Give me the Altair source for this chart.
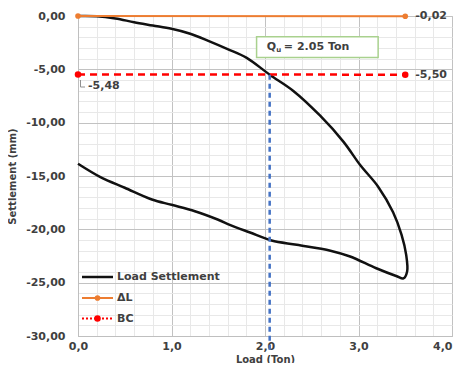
import altair as alt
import pandas as pd

# ---------------- data ----------------
load_ton = [0.0, 0.2, 0.4, 0.6, 0.8, 1.0, 1.2, 1.4, 1.6, 1.8, 2.05, 2.3, 2.59, 2.84, 3.02,
            3.21, 3.37, 3.46, 3.51, 3.52, 3.48, 3.41, 3.19, 2.91, 2.7, 2.34, 2.07,
            1.84, 1.63, 1.5, 1.25, 1.0, 0.79, 0.5, 0.24, 0.0]
settlement_mm = [0.0, -0.02, -0.23, -0.58, -0.89, -1.2, -1.66, -2.35, -3.1, -3.9, -5.5, -7.0,
                 -9.35, -11.8, -14.0, -16.0, -18.4, -20.5, -22.4, -23.95, -24.6, -24.4,
                 -23.65, -22.55, -22.0, -21.45, -21.05, -20.3, -19.6, -19.1, -18.3, -17.7,
                 -17.2, -16.1, -15.1, -13.85]

dl_x = [0.0, 3.5]
dl_y = [0.0, -0.02]
bc_x = [0.0, 3.5]
bc_y = [-5.48, -5.50]
qu_load = 2.05
qu_settle = -5.50

x_ticks = [round(i * 0.2, 1) for i in range(21)]
y_ticks = list(range(-30, 1))

legend_names = ["Load Settlement", "ΔL", "BC"]

# ---------------- style ----------------
W, H = 374, 320
FONT = "DejaVu Sans"
TXT = "#404040"
ORANGE = "#ED7D31"
RED = "#FF0000"
BLUE = "#4472C4"
MAJOR = "#c2c2c2"
MINOR = "#e8e8e8"

xs = alt.Scale(domain=[0, 4], nice=False, zero=False)
ys = alt.Scale(domain=[-30, 0], nice=False, zero=False)

is_major_x = "abs(datum.value - round(datum.value)) < 0.001"
x_axis = alt.Axis(
    values=x_ticks, title="Load (Ton)",
    labelExpr=is_major_x + " ? replace(format(datum.value, '.1f'), '.', ',') : ''",
    grid=True,
    gridColor={"condition": {"test": is_major_x, "value": MAJOR}, "value": MINOR},
    labelAlign={"condition": {"test": "datum.value > 3.9", "value": "right"}, "value": "center"},
    ticks=False, domainColor="#bfbfbf", labelPadding=4, labelFlush=False, labelOverlap=False,
    titleX=W / 2, titleY=23, titleBaseline="middle",
)
y_axis = alt.Axis(
    values=y_ticks, title="Settlement (mm)",
    labelExpr="datum.value % 5 === 0 ? replace(replace(format(datum.value, '.2f'), '.', ','), '−', '-') : ''",
    grid=True,
    gridColor={"condition": {"test": "datum.value % 5 === 0", "value": MAJOR}, "value": MINOR},
    ticks=False, domainColor="#bfbfbf", labelPadding=13, labelFlush=False, labelOverlap=False,
    titleX=-66, titleY=H / 2, titleAngle=-90, titleBaseline="middle", titleAlign="center",
)

X = alt.X("x:Q", scale=xs, axis=x_axis)
Y = alt.Y("y:Q", scale=ys, axis=y_axis)

curve_df = pd.DataFrame({"x": load_ton, "y": settlement_mm, "i": range(len(load_ton))})
dl_df = pd.DataFrame({"x": dl_x, "y": dl_y})
bc_df = pd.DataFrame({"x": bc_x, "y": bc_y})
qu_df = pd.DataFrame({"x": [qu_load], "y": [qu_settle]})
one = pd.DataFrame({"a": [0]})

curve = alt.Chart(curve_df).mark_line(
    color="#111111", strokeWidth=2.5, interpolate="catmull-rom"
).encode(x=X, y=Y, order="i:Q")

dl_line = alt.Chart(dl_df).mark_line(color=ORANGE, strokeWidth=2).encode(x=X, y=Y)
dl_pts = alt.Chart(dl_df).mark_circle(color=ORANGE, size=32, opacity=1).encode(x=X, y=Y)

bc_line = alt.Chart(bc_df).mark_line(color=RED, strokeWidth=2.5, strokeDash=[7, 5]).encode(x=X, y=Y)
bc_pts = alt.Chart(bc_df).mark_circle(color=RED, size=42, opacity=1).encode(x=X, y=Y)

qu_rule = alt.Chart(qu_df).mark_rule(color=BLUE, strokeWidth=2.5, strokeDash=[5, 4]).encode(
    x=X, y=Y, y2=alt.value(H + 15)
)

# end-value labels
end_df = pd.DataFrame({"x": [dl_x[1], bc_x[1]], "y": [dl_y[1], bc_y[1]],
                       "t": ["-0,02", "-5,50"]})
end_lbl = alt.Chart(end_df).mark_text(
    align="left", baseline="middle", dx=10, font=FONT, fontWeight="bold", fontSize=11, color=TXT
).encode(x=X, y=Y, text="t:N")

start_df = pd.DataFrame({"x": [bc_x[0]], "y": [bc_y[0]], "t": ["-5,48"]})
start_lbl = alt.Chart(start_df).mark_text(
    align="left", baseline="middle", dx=10, dy=12, font=FONT, fontWeight="bold", fontSize=11, color=TXT
).encode(x=X, y=Y, text="t:N")
lead_v = alt.Chart(one).mark_rule(color="#909090", strokeWidth=1).encode(
    x=alt.value(2.5), y=alt.value(64), y2=alt.value(71))
lead_h = alt.Chart(one).mark_rule(color="#909090", strokeWidth=1).encode(
    x=alt.value(2.5), x2=alt.value(7), y=alt.value(71))

# Qu annotation box
box_df = pd.DataFrame({"x": [1.91], "x2": [3.21], "y": [-1.94], "y2": [-3.9]})
box = alt.Chart(box_df).mark_rect(fill="white", stroke="#A9D18E", strokeWidth=1.5).encode(
    x=X, x2="x2:Q", y=Y, y2="y2:Q")
qtxt_df = pd.DataFrame({"x": [2.02], "y": [-2.92]})
q1 = alt.Chart(qtxt_df).mark_text(align="left", baseline="middle", font=FONT, fontWeight="bold",
                                   fontSize=11, color=TXT, text="Q").encode(x=X, y=Y)
q2 = alt.Chart(qtxt_df).mark_text(align="left", baseline="middle", dx=9.5, dy=3, font=FONT,
                                   fontWeight="bold", fontSize=7, color=TXT, text="u").encode(x=X, y=Y)
q3 = alt.Chart(qtxt_df).mark_text(align="left", baseline="middle", dx=17, font=FONT, fontWeight="bold",
                                   fontSize=11, color=TXT, text=f"= {qu_load:.2f} Ton").encode(x=X, y=Y)

# legend (inside plot, bottom-left)
ly = [261, 282, 302.5]
leg = []
leg.append(alt.Chart(one).mark_rule(color="#111111", strokeWidth=2.5).encode(
    x=alt.value(4), x2=alt.value(35), y=alt.value(ly[0])))
leg.append(alt.Chart(one).mark_rule(color=ORANGE, strokeWidth=2).encode(
    x=alt.value(4), x2=alt.value(35), y=alt.value(ly[1])))
leg.append(alt.Chart(one).mark_circle(color=ORANGE, size=32, opacity=1).encode(
    x=alt.value(19.5), y=alt.value(ly[1])))
leg.append(alt.Chart(one).mark_rule(color=RED, strokeWidth=2, strokeDash=[2, 2]).encode(
    x=alt.value(4), x2=alt.value(35), y=alt.value(ly[2])))
leg.append(alt.Chart(one).mark_circle(color=RED, size=42, opacity=1).encode(
    x=alt.value(19.5), y=alt.value(ly[2])))
for name, yy in zip(legend_names, ly):
    leg.append(alt.Chart(one).mark_text(align="left", baseline="middle", font=FONT, fontWeight="bold",
                                        fontSize=11, color=TXT, text=name).encode(
        x=alt.value(39), y=alt.value(yy)))

chart = alt.layer(
    curve, dl_line, bc_line, qu_rule, dl_pts, bc_pts, end_lbl, start_lbl, lead_v, lead_h,
    box, q1, q2, q3, *leg
).properties(
    width=W, height=H,
    autosize=alt.AutoSizeParams(type="none"),
    padding={"left": 70, "top": 8, "right": 1, "bottom": 27},
).configure_axis(
    labelFont=FONT, labelFontWeight="bold", labelFontSize=11, labelColor=TXT,
    titleFont=FONT, titleFontWeight="bold", titleFontSize=10, titleColor=TXT,
).configure_view(stroke=MAJOR)

chart.save("out.html", embed_options={"renderer": "svg", "actions": False})
